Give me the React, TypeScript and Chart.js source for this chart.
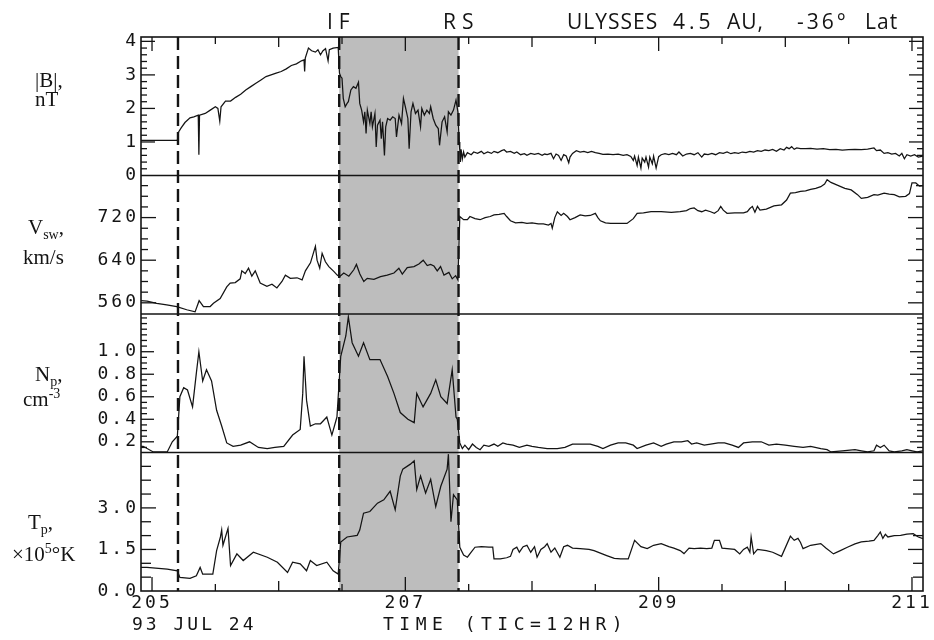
import React, { useEffect, useRef } from 'react';
import { Chart, registerables } from 'chart.js';

Chart.register(...registerables);

// ---------- data (day of year 1993) ----------
const X_MIN = 204.913;
const X_MAX = 211.087;
const xTickLabels = [205, 207, 209, 211];
const ONSET_DAY = 205.205;
const IF_DAY = 206.478;
const RS_DAY = 207.42;

const bTime = [
  204.913, 205.2, 205.21, 205.23, 205.26, 205.3, 205.33, 205.365, 205.37, 205.375, 205.42, 205.46, 205.5, 205.52, 205.535, 205.545,
  205.58, 205.62, 205.66, 205.7, 205.74, 205.78, 205.82, 205.86, 205.9, 205.94, 205.98, 206.02, 206.06, 206.1, 206.14, 206.18,
  206.2, 206.205, 206.21, 206.235, 206.26, 206.29, 206.31, 206.33, 206.35, 206.37, 206.39, 206.4, 206.43, 206.47,
  206.48, 206.49, 206.5, 206.51, 206.525, 206.54, 206.55, 206.57, 206.59, 206.61, 206.63, 206.64, 206.655, 206.67, 206.68, 206.69,
  206.7, 206.72, 206.73, 206.74, 206.76, 206.77, 206.78, 206.8, 206.81, 206.82, 206.835, 206.845, 206.86, 206.88, 206.9, 206.92,
  206.93, 206.95, 206.97, 206.985, 207.0, 207.02, 207.03, 207.045, 207.06, 207.08, 207.1, 207.12, 207.13, 207.15, 207.17, 207.19,
  207.2, 207.22, 207.24, 207.26, 207.27, 207.29, 207.31, 207.33, 207.34, 207.36, 207.38, 207.4, 207.415,
  207.425, 207.43, 207.435, 207.44, 207.45, 207.46, 207.47, 207.49, 207.52, 207.54,
  207.57, 207.6, 207.62, 207.65, 207.68, 207.7, 207.73, 207.76, 207.78, 207.8,
  207.83, 207.86, 207.88, 207.91, 207.94, 207.96, 207.99, 208.02, 208.05, 208.08,
  208.1, 208.12, 208.15, 208.17, 208.19, 208.21, 208.23, 208.25, 208.27, 208.29,
  208.3, 208.32, 208.35, 208.38, 208.41, 208.44, 208.47, 208.5, 208.53, 208.56,
  208.6, 208.64, 208.68, 208.72, 208.75, 208.78, 208.8, 208.81, 208.83, 208.84,
  208.86, 208.87, 208.89, 208.9, 208.92, 208.93, 208.95, 208.96, 208.98, 209.0,
  209.02, 209.05, 209.08, 209.11, 209.14, 209.16, 209.19, 209.22, 209.25, 209.28,
  209.31, 209.34, 209.36, 209.39, 209.42, 209.45, 209.48, 209.51, 209.54, 209.57,
  209.6, 209.63, 209.66, 209.69, 209.72, 209.75, 209.78, 209.81, 209.84, 209.87,
  209.9, 209.93, 209.96, 209.99, 210.01, 210.03, 210.05, 210.07, 210.09, 210.12,
  210.16, 210.2, 210.25, 210.3, 210.35, 210.4, 210.45, 210.5, 210.55, 210.6,
  210.65, 210.7, 210.72, 210.75, 210.78, 210.81, 210.84, 210.87, 210.9, 210.92,
  210.94, 210.96, 210.99, 211.02, 211.05, 211.087,
];
const bValue = [
  1.05, 1.05, 1.3, 1.42, 1.58, 1.72, 1.75, 1.8, 0.62, 1.8, 1.85, 1.95, 2.05, 2.0, 1.62, 2.05,
  2.22, 2.22, 2.33, 2.42, 2.55, 2.65, 2.75, 2.85, 2.95, 3.0, 3.05, 3.1, 3.18, 3.28, 3.33, 3.42,
  3.45, 3.1, 3.5, 3.8, 3.72, 3.68, 3.75, 3.6, 3.72, 3.78, 3.42, 3.75, 3.8, 3.82,
  3.05, 2.95, 2.9, 2.3, 2.05, 2.15, 2.2, 2.55, 2.65, 2.6, 2.78, 2.15, 1.95, 1.6, 1.9, 1.25,
  1.95, 1.55, 1.9, 1.45, 1.85, 0.85, 1.5, 1.65, 1.1, 1.6, 0.6, 1.45, 1.7, 1.65, 1.75, 1.7,
  1.15, 1.8, 1.55, 2.3, 2.05, 1.7, 0.8, 1.9, 2.15, 1.85, 1.95, 1.45, 2.0, 1.8, 1.95, 1.85,
  2.05, 1.7, 1.5, 1.4, 0.9, 1.6, 1.75, 1.3, 1.9, 1.8, 1.95, 2.25, 1.9,
  1.0, 0.75, 0.4, 0.78, 0.5, 0.7, 0.55, 0.68, 0.62, 0.7,
  0.66, 0.72, 0.65, 0.7, 0.66, 0.72, 0.68, 0.74, 0.77, 0.7,
  0.72, 0.66, 0.7, 0.62, 0.65, 0.6, 0.66, 0.63, 0.66, 0.6,
  0.64, 0.62, 0.66, 0.5, 0.64, 0.6, 0.45, 0.62, 0.58, 0.38,
  0.55, 0.66, 0.74, 0.7, 0.72, 0.68, 0.72, 0.68, 0.66, 0.63,
  0.64, 0.62, 0.64, 0.6, 0.62, 0.57, 0.45, 0.58, 0.3, 0.55,
  0.22, 0.52, 0.4, 0.55, 0.25, 0.55, 0.35, 0.58, 0.22, 0.56,
  0.62, 0.65, 0.62, 0.66, 0.62, 0.7, 0.58, 0.64, 0.66, 0.62,
  0.68, 0.55, 0.64, 0.62, 0.66, 0.62, 0.68, 0.66, 0.7, 0.65,
  0.68, 0.66, 0.7, 0.68, 0.72, 0.7, 0.74, 0.72, 0.76, 0.74,
  0.78, 0.72, 0.8, 0.76, 0.84, 0.8, 0.86, 0.78, 0.82, 0.8,
  0.8, 0.81, 0.79, 0.8, 0.77, 0.78, 0.76, 0.77, 0.78, 0.77,
  0.79, 0.82, 0.74, 0.76, 0.66, 0.68, 0.64, 0.66, 0.58, 0.66,
  0.5, 0.62, 0.58, 0.62, 0.55, 0.58,
];

const vTime = [
  204.913, 204.961, 205.037, 205.116, 205.195, 205.274, 205.34, 205.372, 205.406, 205.459,
  205.485, 205.538, 205.59, 205.617, 205.657, 205.696, 205.709, 205.736, 205.762, 205.788,
  205.815, 205.854, 205.907, 205.947, 205.986, 206.026, 206.053, 206.092, 206.145, 206.185,
  206.211, 206.251, 206.29, 206.303, 206.324, 206.343, 206.369, 206.396, 206.435, 206.462,
  206.48, 206.514, 206.554, 206.593, 206.614, 206.641, 206.672, 206.699, 206.752, 206.804,
  206.857, 206.91, 206.949, 206.976, 207.015, 207.068, 207.107, 207.141, 207.173, 207.199,
  207.226, 207.252, 207.278, 207.305, 207.344, 207.37, 207.397, 207.415,
  207.43, 207.46, 207.49, 207.51, 207.55, 207.59, 207.63, 207.67, 207.7, 207.74,
  207.78, 207.8, 207.83, 207.87, 207.92, 207.96, 208.0, 208.05, 208.09, 208.13,
  208.15, 208.16, 208.18, 208.2, 208.23, 208.25, 208.28, 208.3, 208.34, 208.38,
  208.42, 208.46, 208.5, 208.52, 208.54, 208.58, 208.62, 208.68, 208.75, 208.8,
  208.83, 208.88, 208.94, 209.02, 209.1, 209.17, 209.22, 209.25, 209.28, 209.31,
  209.34, 209.37, 209.41, 209.44, 209.47, 209.49, 209.51, 209.54, 209.6, 209.67,
  209.7, 209.72, 209.74, 209.76, 209.78, 209.8, 209.85, 209.91, 209.97, 210.01,
  210.04, 210.08, 210.12, 210.16, 210.2, 210.24, 210.28, 210.31, 210.33, 210.36,
  210.41, 210.47, 210.52, 210.57, 210.6, 210.65, 210.7, 210.73, 210.78, 210.82,
  210.86, 210.9, 210.95, 210.98, 211.0, 211.03, 211.06, 211.087,
];
const vValue = [
  564, 563, 559, 556, 553, 547, 543, 564, 553, 553,
  559, 568, 590, 597, 598, 605, 620, 615, 625, 610,
  620, 597, 591, 595, 588, 600, 612, 606, 607, 603,
  620, 635, 666, 640, 625, 653, 637, 628, 619, 612,
  609, 616, 610, 622, 632, 614, 600, 606, 604, 609,
  612, 616, 625, 614, 626, 628, 633, 640, 630, 632,
  629, 620, 628, 612, 617, 605, 611, 603,
  722, 716, 716, 722, 718, 716, 720, 722, 725, 726,
  728, 722, 714, 710, 711, 709, 710, 708, 708, 706,
  709, 700, 720, 731, 724, 728, 722, 716, 720, 725,
  723, 724, 728, 720, 714, 710, 709, 709, 709, 718,
  728, 729, 731, 731, 730, 731, 733, 737, 738, 733,
  731, 734, 731, 728, 733, 741, 734, 728, 729, 729,
  731, 737, 741, 730, 741, 734, 736, 742, 744, 753,
  766, 767, 769, 770, 773, 775, 778, 783, 791, 786,
  781, 775, 772, 763, 756, 758, 763, 762, 766, 764,
  763, 759, 760, 765, 785, 785, 779, 780,
];

const nTime = [
  204.913, 204.93, 205.01, 205.12, 205.16, 205.2, 205.22, 205.25, 205.28, 205.32, 205.35, 205.37, 205.4, 205.43, 205.47, 205.51,
  205.55, 205.59, 205.64, 205.7, 205.77, 205.84, 205.91, 205.97, 206.04, 206.11, 206.17, 206.19, 206.2, 206.22, 206.25, 206.29,
  206.33, 206.38, 206.42, 206.46, 206.49, 206.53, 206.55, 206.58, 206.63, 206.67, 206.72, 206.8, 206.86, 206.91, 206.96, 207.02,
  207.07, 207.09, 207.14, 207.2, 207.24, 207.28, 207.33, 207.37, 207.4, 207.41, 207.43,
  207.45, 207.47, 207.5, 207.53, 207.56, 207.59, 207.62, 207.66, 207.7, 207.73,
  207.77, 207.8, 207.85, 207.9, 207.96, 208.0, 208.05, 208.12, 208.2, 208.26,
  208.32, 208.4, 208.46, 208.52, 208.56, 208.62, 208.68, 208.74, 208.8, 208.83,
  208.9, 208.96, 209.02, 209.06, 209.12, 209.18, 209.23, 209.26, 209.3, 209.36,
  209.41, 209.47, 209.52, 209.58, 209.63, 209.67, 209.74, 209.81, 209.87, 209.93,
  210.0, 210.07, 210.14, 210.2, 210.28, 210.33, 210.36, 210.45, 210.55, 210.6,
  210.65, 210.7, 210.72, 210.75, 210.78, 210.82, 210.86, 210.92, 210.96, 211.0,
  211.04, 211.087,
];
const nValue = [
  0.16, 0.16, 0.11, 0.11, 0.2, 0.25, 0.6, 0.68, 0.66, 0.51, 0.81, 1.0, 0.74, 0.84, 0.74, 0.48,
  0.34, 0.19, 0.16, 0.17, 0.2, 0.15, 0.14, 0.15, 0.16, 0.26, 0.31, 0.63, 0.96, 0.57, 0.34, 0.36,
  0.36, 0.42, 0.26, 0.42, 0.96, 1.14, 1.31, 1.08, 0.96, 1.08, 0.93, 0.93, 0.78, 0.63, 0.46, 0.4,
  0.37, 0.63, 0.51, 0.63, 0.75, 0.6, 0.54, 0.84, 0.42, 0.4, 0.19,
  0.14, 0.17, 0.13, 0.18, 0.15, 0.13, 0.17, 0.16, 0.18, 0.16,
  0.19, 0.18, 0.17, 0.15, 0.17, 0.16, 0.15, 0.14, 0.14, 0.15,
  0.18, 0.18, 0.18, 0.16, 0.14, 0.17, 0.19, 0.19, 0.17, 0.14,
  0.17, 0.19, 0.16, 0.18, 0.2, 0.2, 0.21, 0.18, 0.19, 0.17,
  0.18, 0.19, 0.19, 0.17, 0.15, 0.19, 0.2, 0.2, 0.17, 0.18,
  0.17, 0.16, 0.15, 0.16, 0.14, 0.13, 0.11, 0.12, 0.13, 0.12,
  0.11, 0.12, 0.17, 0.15, 0.17, 0.12, 0.11, 0.12, 0.13, 0.12,
  0.11, 0.12,
];

const tTime = [
  204.913, 204.96, 205.12, 205.2, 205.22, 205.3, 205.35, 205.38, 205.4, 205.48, 205.51, 205.54, 205.55, 205.56, 205.6, 205.62,
  205.67, 205.72, 205.8, 205.91, 205.99, 206.07, 206.11, 206.17, 206.22, 206.25, 206.3, 206.38, 206.43, 206.47, 206.49, 206.54,
  206.62, 206.64, 206.67, 206.72, 206.78, 206.83, 206.88, 206.92, 206.96, 206.98, 207.04, 207.07, 207.09, 207.12, 207.16, 207.2,
  207.24, 207.28, 207.33, 207.34, 207.36, 207.38, 207.41, 207.43,
  207.46, 207.49, 207.52, 207.55, 207.6, 207.66, 207.69, 207.7, 207.75, 207.8,
  207.83, 207.85, 207.88, 207.9, 207.93, 207.96, 207.99, 208.02, 208.04, 208.07,
  208.1, 208.12, 208.15, 208.18, 208.22, 208.25, 208.28, 208.32, 208.38, 208.45,
  208.49, 208.55, 208.59, 208.65, 208.7, 208.76, 208.81, 208.86, 208.91, 208.96,
  209.02, 209.08, 209.12, 209.17, 209.2, 209.24, 209.28, 209.33, 209.38, 209.42,
  209.44, 209.48, 209.5, 209.54, 209.6, 209.64, 209.67, 209.7, 209.72, 209.73,
  209.75, 209.78, 209.85, 209.9, 209.97, 210.04, 210.07, 210.1, 210.12, 210.14,
  210.2, 210.28, 210.32, 210.38, 210.43, 210.49, 210.55, 210.6, 210.66, 210.7,
  210.73, 210.75, 210.77, 210.79, 210.81, 210.86, 210.91, 210.96, 211.01, 211.05,
  211.087,
];
const tValue = [
  0.85, 0.85, 0.79, 0.73, 0.49, 0.46, 0.55, 0.85, 0.61, 0.61, 1.46, 1.95, 2.2, 1.65, 2.26, 0.92,
  1.34, 1.1, 1.4, 1.22, 1.04, 0.67, 1.04, 0.98, 0.73, 1.1, 0.92, 1.04, 0.73, 0.61, 1.77, 1.95,
  2.01, 2.2, 2.81, 2.87, 3.17, 3.29, 3.6, 2.93, 4.15, 4.4, 4.58, 4.7, 3.66, 4.15, 3.54, 4.03,
  3.05, 3.78, 4.4, 4.94, 2.5, 3.48, 3.29, 1.58,
  1.3, 1.22, 1.4, 1.58, 1.6, 1.58, 1.58, 1.16, 1.16, 1.2,
  1.25, 1.5, 1.58, 1.4, 1.6, 1.65, 1.4, 1.6, 1.22, 1.5,
  1.6, 1.71, 1.4, 1.55, 1.22, 1.6, 1.65, 1.55, 1.53, 1.5,
  1.46, 1.35, 1.28, 1.18, 1.16, 1.16, 1.83, 1.6, 1.53, 1.65,
  1.71, 1.6, 1.55, 1.46, 1.35, 1.55, 1.53, 1.55, 1.53, 1.55,
  1.83, 1.83, 1.55, 1.53, 1.5, 1.34, 1.5, 1.58, 1.4, 1.95,
  1.34, 1.5, 1.46, 1.4, 1.25, 1.98, 1.83, 1.9, 1.75, 1.53,
  1.65, 1.71, 1.55, 1.34, 1.45, 1.58, 1.7, 1.77, 1.8, 1.83,
  2.0, 2.13, 1.9, 2.05, 1.95, 2.0, 2.01, 2.05, 2.07, 1.95,
  1.89,
];

const bTickLabels = [0, 1, 2, 3, 4];
const vTickLabels = [560, 640, 720];
const nTickLabels = [0.2, 0.4, 0.6, 0.8, 1.0];
const tTickLabels = [0.0, 1.5, 3.0];

// ---------- styling ----------
const INK = '#141414';
const SHADE = '#bdbdbd';
const MONO = '"DejaVu Sans Mono", monospace';
const SERIF = '"Liberation Serif", "Times New Roman", serif';
const SANS = '"Open Sans", "DejaVu Sans", sans-serif';

type Panel = {
  id: string; min: number; max: number; step: number; start: number;
  labels: number[]; decimals: number; major: number; minor: number;
};
const PANELS: Panel[] = [
  { id: 'yT', min: 0, max: 5, step: 0.5, start: 0, labels: tTickLabels, decimals: 1, major: 15, minor: 10 },
  { id: 'yN', min: 0.105, max: 1.335, step: 0.05, start: 0.15, labels: nTickLabels, decimals: 1, major: 13, minor: 6 },
  { id: 'yV', min: 539, max: 799, step: 20, start: 540, labels: vTickLabels, decimals: 0, major: 15, minor: 7 },
  { id: 'yB', min: 0, max: 4.13, step: 0.2, start: 0, labels: bTickLabels, decimals: 0, major: 14, minor: 6 },
];

const isLabel = (labels: number[], v: number) => labels.some((l) => Math.abs(l - v) < 1e-6);

function toPoints(ts: number[], vs: number[]) {
  const n = Math.min(ts.length, vs.length);
  const out: { x: number; y: number }[] = [];
  for (let i = 0; i < n; i++) out.push({ x: ts[i], y: vs[i] });
  return out;
}

function yScale(p: Panel) {
  return {
    type: 'linear',
    position: 'left',
    stack: 'panels',
    stackWeight: 1,
    min: p.min,
    max: p.max,
    grid: { display: false, drawTicks: false },
    border: { display: false },
    afterBuildTicks: (s: any) => {
      const t: { value: number }[] = [];
      for (let v = p.start; v <= p.max + 1e-9; v += p.step) t.push({ value: Math.round(v * 1000) / 1000 });
      s.ticks = t;
    },
    afterFit: (s: any) => { s.width = 141; },
    ticks: {
      autoSkip: false,
      padding: 2,
      color: INK,
      font: { family: MONO, size: 18 },
      callback: (v: number) => (isLabel(p.labels, v) ? Number(v).toFixed(p.decimals) : ''),
    },
  };
}

const decorPlugin = {
  id: 'decor',
  beforeDraw(chart: any) {
    chart.ctx.letterSpacing = '3px';
  },
  beforeDatasetsDraw(chart: any) {
    const { ctx, chartArea: ca, scales } = chart;
    const xs = scales.x;
    const a = xs.getPixelForValue(IF_DAY);
    const b = xs.getPixelForValue(RS_DAY);
    ctx.save();
    ctx.fillStyle = SHADE;
    ctx.fillRect(a, ca.top, b - a, ca.bottom - ca.top);
    ctx.restore();
  },
  afterDatasetsDraw(chart: any) {
    const { ctx, chartArea: ca, scales } = chart;
    const xs = scales.x;
    const line = (x1: number, y1: number, x2: number, y2: number) => {
      ctx.beginPath(); ctx.moveTo(x1, y1); ctx.lineTo(x2, y2); ctx.stroke();
    };
    ctx.save();
    ctx.strokeStyle = INK;
    ctx.lineWidth = 2.4;
    ctx.setLineDash([13, 6]);
    for (const d of [ONSET_DAY, IF_DAY, RS_DAY]) {
      const px = xs.getPixelForValue(d);
      line(px, ca.top, px, ca.bottom);
    }
    ctx.setLineDash([]);
    ctx.lineWidth = 1.6;
    ctx.strokeRect(ca.left, ca.top, ca.right - ca.left, ca.bottom - ca.top);
    for (const id of ['yV', 'yN', 'yT']) {
      const s = scales[id];
      line(ca.left, s.top, ca.right, s.top);
    }
    ctx.lineWidth = 1.3;
    for (const p of PANELS) {
      const s = scales[p.id];
      for (const t of s.ticks) {
        const py = s.getPixelForValue(t.value);
        if (py <= s.top + 1 || py >= s.bottom - 1) continue;
        const len = isLabel(p.labels, t.value) ? p.major : p.minor;
        line(ca.left, py, ca.left + len, py);
        line(ca.right, py, ca.right - len, py);
      }
    }
    for (const t of xs.ticks) {
      const px = xs.getPixelForValue(t.value);
      const labeled = xTickLabels.includes(t.value);
      const whole = Math.abs(t.value - Math.round(t.value)) < 1e-6;
      const len = labeled ? 14 : whole ? 10 : 7;
      line(px, ca.top, px, ca.top + len);
      line(px, ca.bottom, px, ca.bottom - len);
    }
    ctx.restore();
  },
};

function Txt(props: { x: number; base: number; size: number; family: string; ratio: number; spacing?: number; children: any }) {
  const { x, base, size, family, ratio, spacing, children } = props;
  return (
    <div
      style={{
        position: 'absolute', left: x, top: base - size * ratio, fontSize: size, lineHeight: `${size}px`,
        fontFamily: family, whiteSpace: 'nowrap', color: INK, letterSpacing: spacing ?? 0,
      }}
    >
      {children}
    </div>
  );
}

const SERIF_R = 0.8375;
const MONO_R = 0.846;
const SANS_R = 0.888;

export default function App() {
  const ref = useRef<HTMLCanvasElement | null>(null);

  useEffect(() => {
    if (!ref.current) return;
    const xHalfDays: number[] = [];
    for (let d = 205; d <= 211 + 1e-9; d += 0.5) xHalfDays.push(d);

    const ds = (id: string, ts: number[], vs: number[]) => ({
      data: toPoints(ts, vs), yAxisID: id, borderColor: INK, borderWidth: 1.25, pointRadius: 0, tension: 0, fill: false,
    });

    const scales: any = {
      x: {
        type: 'linear', position: 'bottom', min: X_MIN, max: X_MAX,
        grid: { display: false, drawTicks: false }, border: { display: false },
        afterBuildTicks: (s: any) => { s.ticks = xHalfDays.map((v) => ({ value: v })); },
        afterFit: (s: any) => { s.height = 49; },
        ticks: {
          autoSkip: false, maxRotation: 0, padding: 2, color: INK,
          font: { family: MONO, size: 18 },
          callback: (v: number) => (xTickLabels.includes(v) ? String(v) : ''),
        },
      },
    };
    for (const p of PANELS) scales[p.id] = yScale(p);

    const chart = new Chart(ref.current, {
      type: 'line',
      data: {
        datasets: [
          ds('yT', tTime, tValue),
          ds('yN', nTime, nValue),
          ds('yV', vTime, vValue),
          ds('yB', bTime, bValue),
        ],
      },
      options: {
        responsive: false,
        maintainAspectRatio: false,
        animation: false,
        parsing: false as any,
        normalized: true,
        layout: { padding: { top: 37, right: 11, left: 0, bottom: 0 } },
        plugins: { legend: { display: false }, tooltip: { enabled: false }, title: { display: false } },
        scales,
      } as any,
      plugins: [decorPlugin as any],
    });
    return () => chart.destroy();
  }, []);

  const sub = (s: string) => <span style={{ position: 'relative', top: 5, fontSize: 14 }}>{s}</span>;
  const sup = (s: string) => <span style={{ position: 'relative', top: -8, fontSize: 14 }}>{s}</span>;

  return (
    <div style={{ position: 'absolute', left: 0, top: 0, width: 934, height: 640, background: '#fff', overflow: 'hidden' }}>
      <canvas ref={ref} width={934} height={640} style={{ position: 'absolute', left: 0, top: 0 }} />
      {/* header */}
      <Txt x={327} base={30} size={21} family={SANS} ratio={SANS_R} spacing={6}>IF</Txt>
      <Txt x={443} base={30} size={21} family={SANS} ratio={SANS_R} spacing={6}>RS</Txt>
      <Txt x={567} base={30} size={21} family={SANS} ratio={SANS_R} spacing={1}>ULYSSES</Txt>
      <Txt x={673} base={30} size={21} family={SANS} ratio={SANS_R} spacing={4}>4.5</Txt>
      <Txt x={727} base={30} size={21} family={SANS} ratio={SANS_R} spacing={1}>AU,</Txt>
      <Txt x={797} base={30} size={21} family={SANS} ratio={SANS_R} spacing={3}>-36°</Txt>
      <Txt x={865} base={30} size={21} family={SANS} ratio={SANS_R} spacing={1}>Lat</Txt>
      {/* panel titles */}
      <Txt x={35} base={88} size={21} family={SERIF} ratio={SERIF_R}>|B|,</Txt>
      <Txt x={35} base={107} size={21} family={SERIF} ratio={SERIF_R}>nT</Txt>
      <Txt x={28} base={235} size={21} family={SERIF} ratio={SERIF_R}>V{sub('sw')},</Txt>
      <Txt x={23} base={265} size={21} family={SERIF} ratio={SERIF_R}>km/s</Txt>
      <Txt x={35} base={382} size={21} family={SERIF} ratio={SERIF_R}>N{sub('p')},</Txt>
      <Txt x={23} base={407} size={21} family={SERIF} ratio={SERIF_R}>cm{sup('-3')}</Txt>
      <Txt x={28} base={530} size={21} family={SERIF} ratio={SERIF_R}>T{sub('p')},</Txt>
      <Txt x={12} base={562} size={21} family={SERIF} ratio={SERIF_R}>×10{sup('5')}°K</Txt>
      {/* bottom annotations */}
      <Txt x={132} base={630} size={18} family={MONO} ratio={MONO_R} spacing={3}>93 JUL 24</Txt>
      <Txt x={383} base={630} size={18} family={MONO} ratio={MONO_R} spacing={5.5}>TIME (TIC=12HR)</Txt>
    </div>
  );
}
